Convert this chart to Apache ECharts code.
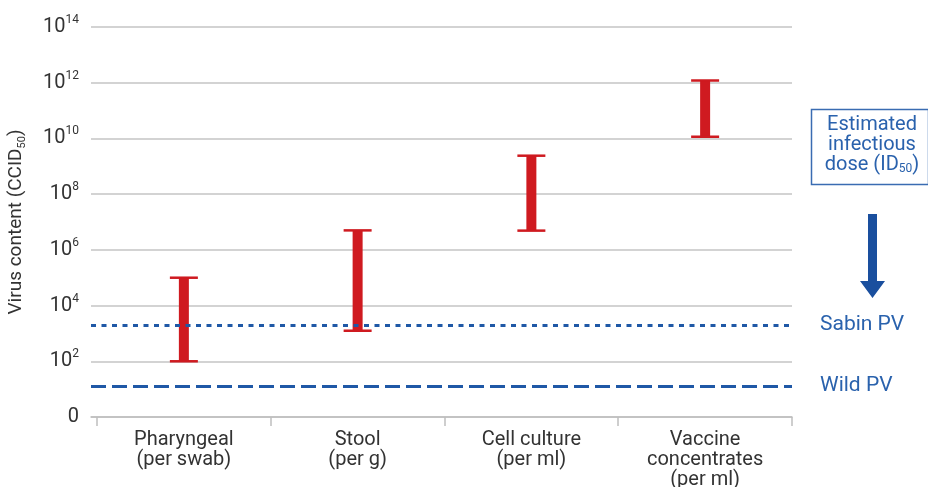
<!DOCTYPE html>
<html>
<head>
<meta charset="utf-8">
<script src="https://cdn.jsdelivr.net/npm/echarts@6/dist/echarts.min.js"></script>
<style>html,body{margin:0;padding:0;background:#fff;}#c{width:928px;height:487px;}</style>
</head>
<body>
<div id="c"></div>
<script>
// ---- data ----
var categories = ['Pharyngeal\n(per swab)', 'Stool\n(per g)', 'Cell culture\n(per ml)', 'Vaccine\nconcentrates\n(per ml)'];
var rangeLow  = [1e2, 1.25e3, 4.9e6, 1.15e10];
var rangeHigh = [1e5, 5e6, 2.4e9, 1.2e12];
var sabinPV = 2e3;
var wildPV = 13;
var yTickExponents = [0, 2, 4, 6, 8, 10, 12, 14];

var RED = '#cf1a20', BLUE = '#1f58a6', LBLUE = '#2a62ad', TXT = '#333333', FONT = 'Roboto';
var chart = echarts.init(document.getElementById('c'), null, {renderer: 'canvas'});

var errData = categories.map(function (c, i) {
  return [i, Math.log10(rangeLow[i]), Math.log10(rangeHigh[i])];
});

var option = {
  animation: false,
  grid: {left: 91, right: 136, top: 27, bottom: 70, containLabel: false, outerBoundsMode: 'none'},
  xAxis: {
    type: 'value',
    min: -0.5345, max: 3.5,
    splitLine: {show: false},
    axisLine: {show: true, lineStyle: {color: '#bfbfbf', width: 1.5}},
    axisTick: {show: true, length: 9, lineStyle: {color: '#bfbfbf', width: 1.5}, customValues: [-0.5, 0.5, 1.5, 2.5, 3.5]},
    axisLabel: {
      customValues: [0, 1, 2, 3],
      formatter: function (v) { return categories[Math.round(v)]; },
      color: TXT, fontFamily: FONT, fontSize: 20, lineHeight: 20, margin: 13
    }
  },
  yAxis: {
    type: 'value', min: 0, max: 14, interval: 2,
    name: '{a|Virus content (CCID}{s|50}{a|)}',
    nameLocation: 'middle', nameGap: 63, nameRotate: 90,
    nameTextStyle: {
      rich: {
        a: {fontFamily: FONT, fontSize: 19, color: TXT, lineHeight: 24},
        s: {fontFamily: FONT, fontSize: 11, color: TXT, verticalAlign: 'bottom', lineHeight: 14}
      }
    },
    axisLine: {show: false}, axisTick: {show: false},
    splitLine: {show: true, lineStyle: {color: '#c4c4c4', width: 1.5}},
    axisLabel: {
      margin: 12,
      formatter: function (v) { return v === 0 ? '{b|0}' : '{b|10}{e|' + v + '}'; },
      rich: {
        b: {fontFamily: FONT, fontSize: 20, color: TXT, lineHeight: 26},
        e: {fontFamily: FONT, fontSize: 12, color: TXT, verticalAlign: 'top', lineHeight: 14}
      }
    }
  },
  series: [{
    type: 'custom',
    data: errData,
    encode: {x: 0, y: [1, 2]},
    renderItem: function (params, api) {
      var x = api.value(0);
      var pLo = api.coord([x, api.value(1)]);
      var pHi = api.coord([x, api.value(2)]);
      var bw = 10, cw = 28;
      return {
        type: 'group',
        children: [
          {type: 'rect', shape: {x: pLo[0] - bw / 2, y: pHi[1], width: bw, height: pLo[1] - pHi[1]}, style: {fill: RED}},
          {type: 'line', shape: {x1: pHi[0] - cw / 2, y1: pHi[1], x2: pHi[0] + cw / 2, y2: pHi[1]}, style: {stroke: RED, lineWidth: 2.5}},
          {type: 'line', shape: {x1: pLo[0] - cw / 2, y1: pLo[1], x2: pLo[0] + cw / 2, y2: pLo[1]}, style: {stroke: RED, lineWidth: 2.5}}
        ]
      };
    },
    markLine: {
      silent: true,
      symbol: ['none', 'none'],
      label: {position: 'end', distance: 28, color: LBLUE, fontFamily: FONT, fontSize: 21},
      data: [
        {yAxis: Math.log10(sabinPV), name: 'Sabin PV', label: {formatter: 'Sabin PV'},
          lineStyle: {color: BLUE, width: 3, type: [5, 5.5]}},
        {yAxis: Math.log10(wildPV), name: 'Wild PV', label: {formatter: 'Wild PV'},
          lineStyle: {color: BLUE, width: 3, type: [15, 6]}}
      ]
    }
  }],
  graphic: [
    {type: 'rect', left: 809, top: 107, shape: {width: 117, height: 75},
      style: {fill: 'none', stroke: '#3a6cb2', lineWidth: 1.5}},
    {type: 'text', x: 872, y: 145,
      style: {
        text: '{t|Estimated}\n{t|infectious}\n{t|dose (ID}{s|50}{t|)}',
        align: 'center', verticalAlign: 'middle',
        rich: {
          t: {fontFamily: FONT, fontSize: 20, fill: LBLUE, lineHeight: 20},
          s: {fontFamily: FONT, fontSize: 12, fill: LBLUE, lineHeight: 14, verticalAlign: 'bottom'}
        }
      }},
    {type: 'polygon',
      shape: {points: [[868, 214], [877, 214], [877, 281], [885, 281], [872.5, 298], [860, 281], [868, 281]]},
      style: {fill: '#1a4f9e'}}
  ]
};
chart.setOption(option);
</script>
</body>
</html>
